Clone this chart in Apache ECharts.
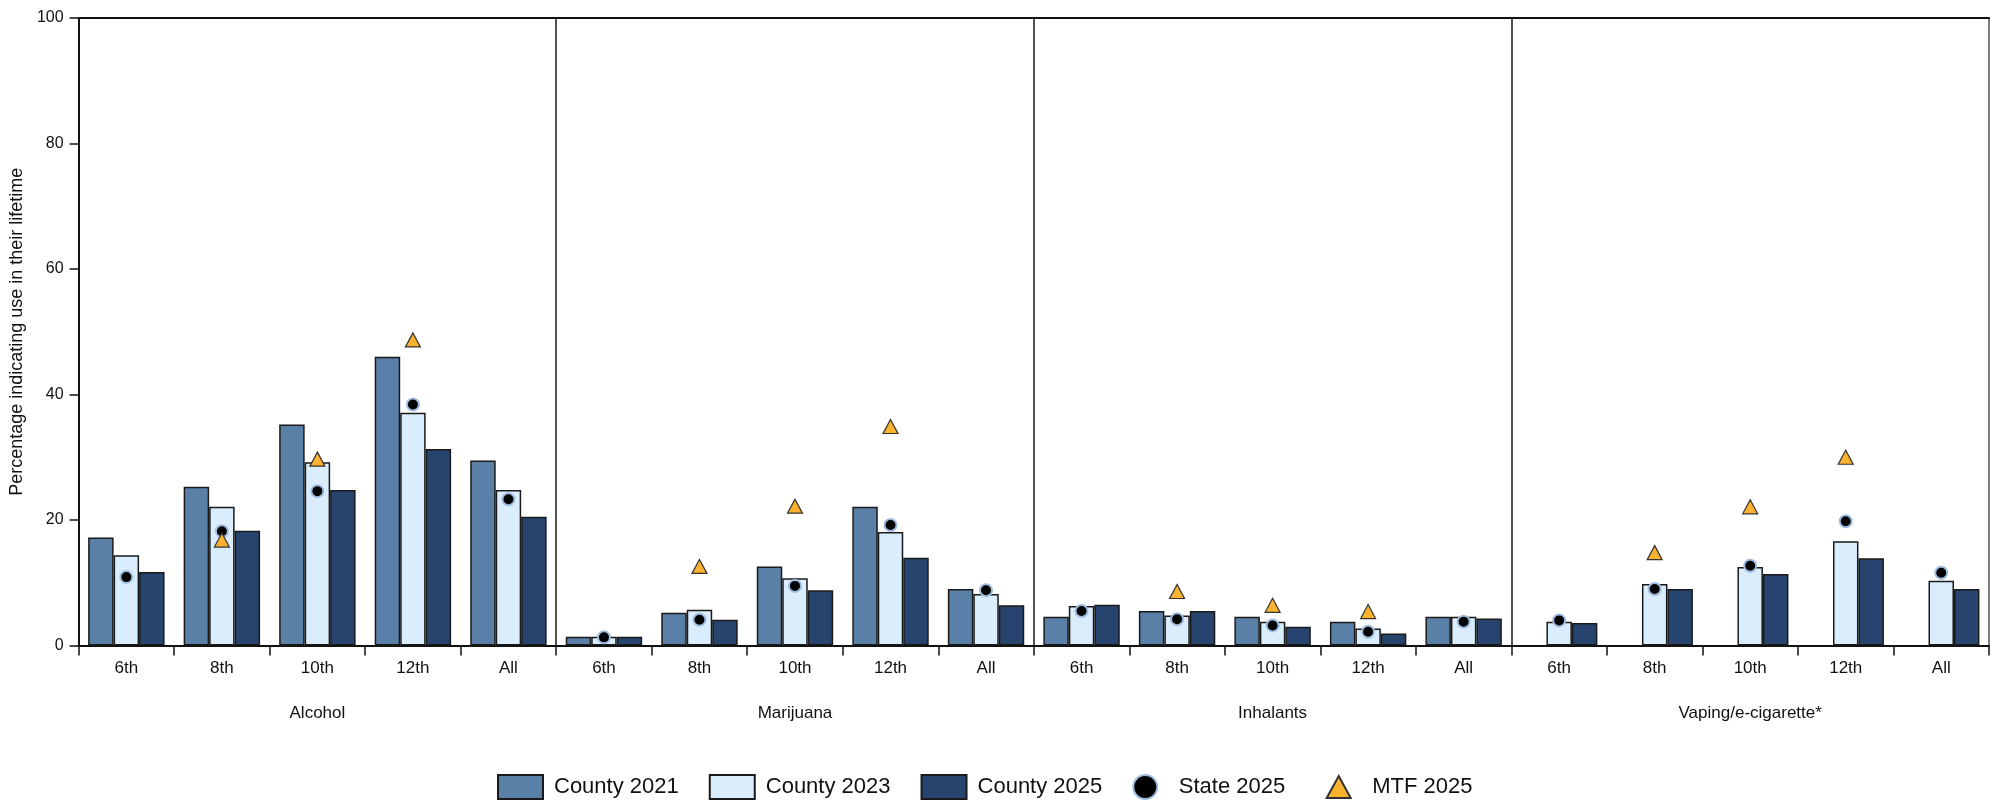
<!DOCTYPE html>
<html>
<head>
<meta charset="utf-8">
<script src="https://cdn.jsdelivr.net/npm/echarts@6/dist/echarts.min.js"></script>
<style>
  html, body { margin: 0; padding: 0; background: #fff; }
  #chart { width: 1990px; height: 802px; }
</style>
</head>
<body>
<div id="chart"></div>
<script>
// ---- Data ----
const groups = ['Alcohol', 'Marijuana', 'Inhalants', 'Vaping/e-cigarette*'];
const grades = ['6th', '8th', '10th', '12th', 'All'];
const categories = [].concat(grades, grades, grades, grades);
const yTicks = [0, 20, 40, 60, 80, 100];

const county2021 = [17.2, 25.3, 35.2, 46.0, 29.5,   1.4, 5.2, 12.6, 22.1, 9.0,   4.6, 5.5, 4.6, 3.8, 4.6,   null, null, null, null, null];
const county2023 = [14.4, 22.1, 29.2, 37.1, 24.8,   1.4, 5.7, 10.7, 18.1, 8.2,   6.3, 4.8, 3.8, 2.7, 4.6,   3.8, 9.8, 12.5, 16.6, 10.3];
const county2025 = [11.7, 18.3, 24.8, 31.3, 20.5,   1.4, 4.1, 8.8, 14.0, 6.4,    6.5, 5.5, 3.0, 1.9, 4.3,   3.6, 9.0, 11.4, 13.9, 9.0];
const state2025  = [10.9, 18.2, 24.6, 38.4, 23.3,   1.3, 4.1, 9.5, 19.2, 8.8,    5.5, 4.2, 3.2, 2.2, 3.8,   4.0, 9.0, 12.7, 19.8, 11.6];
const mtf2025    = [null, 16.8, 29.7, 48.7, null,   null, 12.6, 22.2, 34.9, null, null, 8.6, 6.4, 5.4, null,  null, 14.8, 22.1, 30.0, null];

const seriesNames = ['County 2021', 'County 2023', 'County 2025', 'State 2025', 'MTF 2025'];

// ---- Styles ----
const FONT = "'Liberation Sans', Arial, sans-serif";
const barColors = ['#5b80a8', '#daedfd', '#26446e'];
const barBorder = { borderColor: '#1a1a1a', borderWidth: 1.5 };
// legend triangle drawn inside a 45x24 box (invisible move points define the box)
const legendTriangle = 'path://M0,0 M45,24 M22.5,1 L34.5,23 L10.5,23 Z';

const chart = echarts.init(document.getElementById('chart'));

const option = {
  backgroundColor: '#ffffff',
  animation: false,
  grid: { left: 73, right: 1, top: 18, bottom: 156.5, containLabel: false },
  legend: {
    data: [
      { name: seriesNames[0], icon: 'rect' },
      { name: seriesNames[1], icon: 'rect' },
      { name: seriesNames[2], icon: 'rect' },
      { name: seriesNames[3], icon: 'circle' },
      { name: seriesNames[4], icon: legendTriangle }
    ],
    left: 497,
    top: 774,
    padding: 0,
    itemWidth: 45,
    itemHeight: 24,
    itemGap: 30,
    selectedMode: false,
    textStyle: { fontFamily: FONT, fontSize: 22, color: '#111', padding: [0, 0, 0, 6] }
  },
  xAxis: [
    {
      type: 'category',
      data: categories,
      position: 'bottom',
      boundaryGap: true,
      axisLine: { show: true, lineStyle: { color: '#111', width: 2 } },
      axisTick: { show: true, inside: false, length: 10, interval: 0, lineStyle: { color: '#111', width: 1.5 } },
      axisLabel: { show: true, interval: 0, margin: 14, fontFamily: FONT, fontSize: 17, color: '#111' },
      splitLine: { show: false }
    },
    {
      type: 'category',
      data: groups,
      position: 'bottom',
      offset: 0,
      boundaryGap: true,
      axisLine: { show: false },
      axisTick: { show: false },
      axisLabel: { show: true, interval: 0, margin: 59, fontFamily: FONT, fontSize: 17, color: '#111' },
      splitLine: { show: true, interval: 0, lineStyle: { color: '#1a1a1a', width: 1.5 } }
    },
    {
      type: 'category',
      data: groups,
      position: 'top',
      axisLine: { show: true, lineStyle: { color: '#111', width: 2 } },
      axisTick: { show: false },
      axisLabel: { show: false },
      splitLine: { show: false }
    }
  ],
  yAxis: [
    {
      type: 'value',
      min: 0,
      max: 100,
      interval: 20,
      name: 'Percentage indicating use in their lifetime',
      nameLocation: 'middle',
      nameGap: 47,
      nameTextStyle: { fontFamily: FONT, fontSize: 18, color: '#111' },
      axisLine: { show: true, lineStyle: { color: '#111', width: 2 } },
      axisTick: { show: true, inside: false, length: 9, lineStyle: { color: '#111', width: 1.5 } },
      axisLabel: {
        show: true, margin: 15, fontFamily: FONT, fontSize: 16, color: '#111',
        formatter: function (v) { return yTicks.indexOf(v) >= 0 ? String(v) : ''; }
      },
      splitLine: { show: false }
    },
    {
      type: 'value',
      min: 0,
      max: 100,
      interval: 20,
      position: 'right',
      axisLine: { show: true, lineStyle: { color: '#8a8a8a', width: 1.5 } },
      axisTick: { show: false },
      axisLabel: { show: false },
      splitLine: { show: false }
    }
  ],
  series: [
    {
      name: seriesNames[0], type: 'bar', data: county2021,
      barGap: '0%', barCategoryGap: '20%',
      itemStyle: Object.assign({ color: barColors[0] }, barBorder)
    },
    {
      name: seriesNames[1], type: 'bar', data: county2023,
      barGap: '0%', barCategoryGap: '20%',
      itemStyle: Object.assign({ color: barColors[1] }, barBorder)
    },
    {
      name: seriesNames[2], type: 'bar', data: county2025,
      barGap: '0%', barCategoryGap: '20%',
      itemStyle: Object.assign({ color: barColors[2] }, barBorder)
    },
    {
      name: seriesNames[3], type: 'scatter', data: state2025,
      symbol: 'circle', symbolSize: 12,
      itemStyle: { color: '#000000', borderColor: '#9fbde0', borderWidth: 2, opacity: 1 }
    },
    {
      name: seriesNames[4], type: 'scatter', data: mtf2025,
      symbol: 'triangle', symbolSize: [15, 14],
      itemStyle: { color: '#fbb22f', borderColor: '#333333', borderWidth: 1.2, opacity: 1 }
    }
  ]
};

chart.setOption(option);
</script>
</body>
</html>
